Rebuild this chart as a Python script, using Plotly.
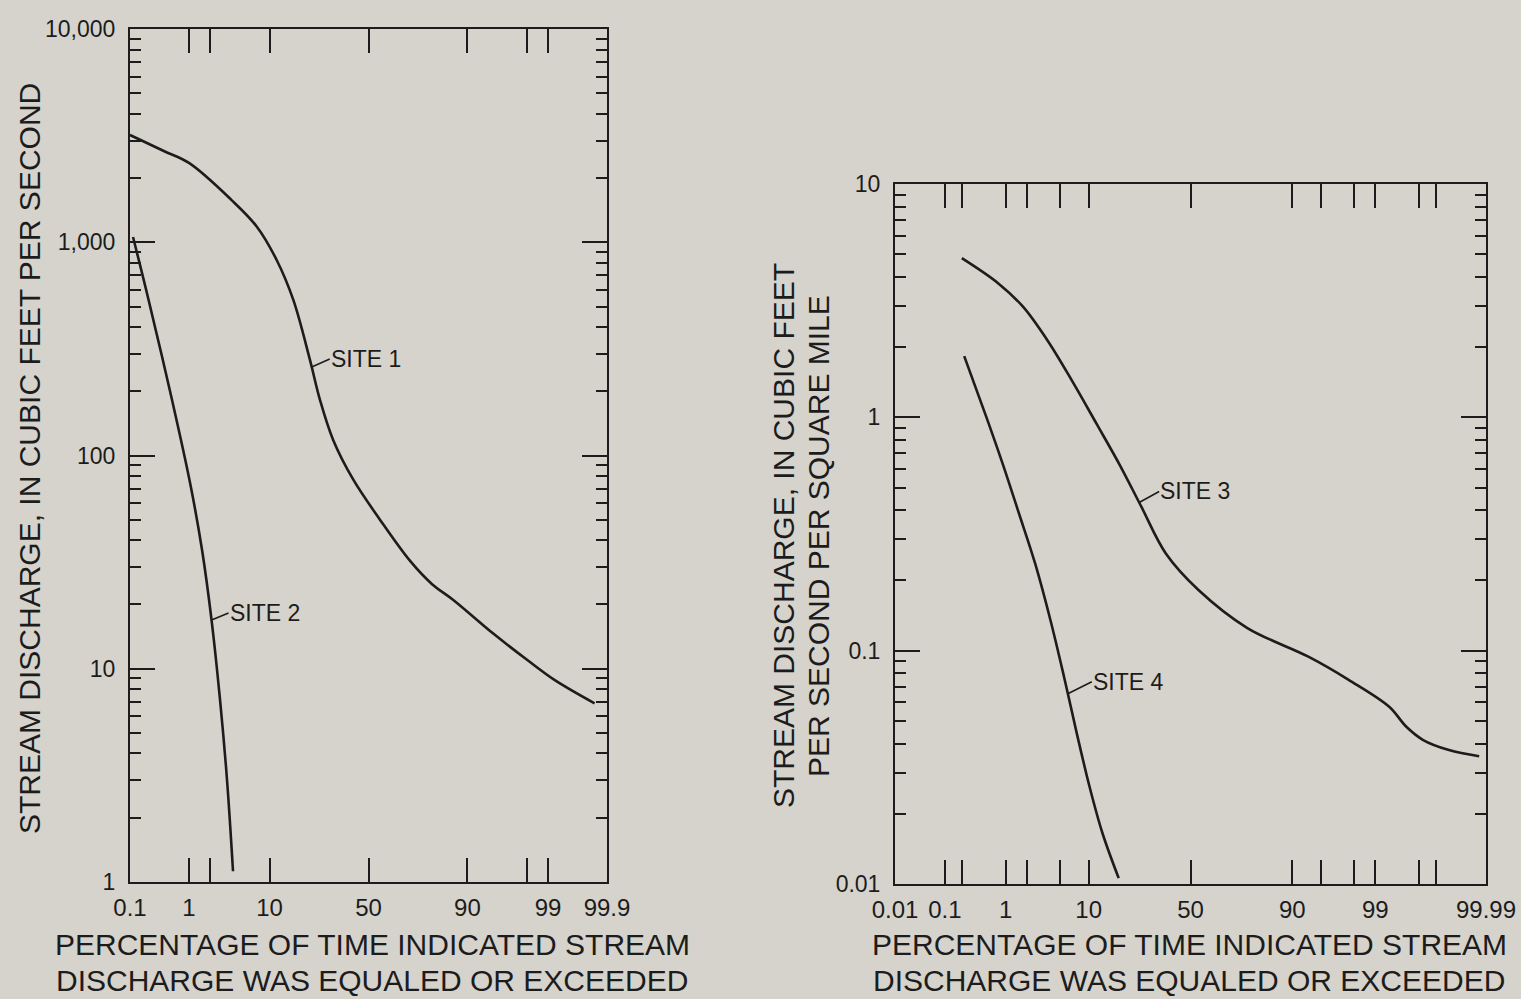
import numpy as np
import plotly.graph_objects as go
from statistics import NormalDist

_nd = NormalDist()


def zval(p):
    """probability-scale position of an exceedance percentage"""
    return _nd.inv_cdf(p / 100.0)


# ---------------- data (percent of time exceeded, discharge) ----------------
site1_pct = [0.1, 0.4, 1.0, 3.8, 7.4, 11.7, 16.5, 22.4, 26.5, 32.4, 42.2, 55.9,
             70.5, 79.5, 86.4, 94.7, 98.0, 99.2, 99.83]
site1_q = [3190, 2685, 2360, 1580, 1185, 827, 537, 281, 182, 118, 77, 50,
           32.0, 24.9, 21, 14.6, 11.0, 8.85, 6.87]

site2_pct = [0.114, 0.219, 0.546, 1.04, 1.55, 2.10, 2.72, 3.34, 3.96]
site2_q = [1060, 537, 182, 74.3, 36.1, 16.9, 7.13, 3.0, 1.12]

site3_pct = [0.2, 0.78, 1.75, 3.58, 6.76, 11.8, 19.0, 26.8, 37.8, 54.0, 76.3,
             93.1, 97.7, 99.38, 99.67, 99.83, 99.943, 99.986]
site3_q = [4.81, 3.75, 2.98, 2.14, 1.44, 0.942, 0.614, 0.414, 0.261, 0.182, 0.125,
           0.0942, 0.0748, 0.0575, 0.0472, 0.0414, 0.0375, 0.0353]

site4_pct = [0.22, 0.505, 0.90, 1.54, 2.52, 3.90, 5.57, 7.62, 10.2, 13.4, 18.3]
site4_q = [1.83, 1.01, 0.635, 0.388, 0.237, 0.135, 0.0773, 0.0442, 0.0261, 0.0165,
           0.0106]

# axis labels / tick marks
left_xlabel_pct = [0.1, 1, 10, 50, 90, 99, 99.9]
left_xlabel_txt = ["0.1", "1", "10", "50", "90", "99", "99.9"]
left_xtick_pct = [1, 2, 10, 50, 90, 98, 99]
left_ylabel_val = [1, 10, 100, 1000, 10000]
left_ylabel_txt = ["1", "10", "100", "1,000", "10,000"]

right_xlabel_pct = [0.01, 0.1, 1, 10, 50, 90, 99, 99.99]
right_xlabel_txt = ["0.01", "0.1", "1", "10", "50", "90", "99", "99.99"]
right_xtick_pct = [0.1, 0.2, 1, 2, 5, 10, 50, 90, 95, 98, 99, 99.8, 99.9]
right_ylabel_val = [0.01, 0.1, 1, 10]
right_ylabel_txt = ["0.01", "0.1", "1", "10"]

# site label anchor points (percent where leader touches the curve)
site_names = ["SITE 1", "SITE 2", "SITE 3", "SITE 4"]
site_label_pct = [23.1, 2.10, 25.9, 6.13]

xtitle1 = "PERCENTAGE OF TIME INDICATED STREAM"
xtitle2 = "DISCHARGE WAS EQUALED OR EXCEEDED"
ytitle_left = "STREAM DISCHARGE, IN CUBIC FEET PER SECOND"
ytitle_right1 = "STREAM DISCHARGE, IN CUBIC FEET"
ytitle_right2 = "PER SECOND PER SQUARE MILE"

# ---------------- styling ----------------
W, H = 1521, 999
BG = "#d6d3cc"
INK = "#1c1c1c"
FONT = "Liberation Sans, Arial, Helvetica, sans-serif"


def px_x(px):
    return px / W


def px_y(py):
    return 1 - py / H


fig = go.Figure()

curves = [
    (site1_pct, site1_q, "x", "y"),
    (site2_pct, site2_q, "x", "y"),
    (site3_pct, site3_q, "x2", "y2"),
    (site4_pct, site4_q, "x2", "y2"),
]
for pct, q, xa, ya in curves:
    fig.add_trace(go.Scatter(
        x=[zval(p) for p in pct], y=q, mode="lines",
        line=dict(color=INK, width=2.6, shape="spline", smoothing=1.0),
        xaxis=xa, yaxis=ya, hoverinfo="skip", showlegend=False))


def xaxis_cfg(domain, rng, lab_pct, lab_txt, tick_pct, anchor, fsize):
    return dict(
        domain=domain, range=rng, anchor=anchor, tickmode="array",
        tickvals=[zval(p) for p in lab_pct], ticktext=lab_txt, ticks="",
        showgrid=False, zeroline=False, showline=True, linecolor=INK,
        linewidth=2, mirror="ticks",
        minor=dict(tickmode="array", tickvals=[zval(p) for p in tick_pct],
                   ticks="inside", ticklen=24, tickwidth=2, tickcolor=INK,
                   showgrid=False),
        tickfont=dict(family=FONT, size=fsize, color=INK),
        ticklabelstandoff=3, automargin=False, fixedrange=True)


def yaxis_cfg(domain, rng, vals, txt, anchor, fsize):
    lo, hi = rng
    minors = [m * 10.0 ** d for d in range(lo, hi) for m in range(2, 10)]
    return dict(
        domain=domain, type="log", range=[lo, hi], anchor=anchor,
        tickmode="array", tickvals=vals, ticktext=txt, ticks="inside",
        ticklen=25, tickwidth=2, tickcolor=INK, showgrid=False,
        zeroline=False, showline=True, linecolor=INK, linewidth=2,
        mirror="ticks",
        minor=dict(tickmode="array", tickvals=minors, ticks="inside",
                   ticklen=11, tickwidth=2, tickcolor=INK, showgrid=False),
        tickfont=dict(family=FONT, size=fsize, color=INK),
        ticklabelstandoff=8, automargin=False, fixedrange=True)


L_X = [px_x(130), px_x(607)]
L_Y = [px_y(881.7), px_y(29.3)]
R_X = [px_x(895), px_x(1486)]
R_Y = [px_y(884), px_y(184)]

fig.update_layout(
    width=W, height=H, autosize=False,
    margin=dict(l=0, r=0, t=0, b=0),
    paper_bgcolor=BG, plot_bgcolor=BG,
    font=dict(family=FONT, color=INK),
    xaxis=xaxis_cfg(L_X, [zval(0.1), zval(99.9)], left_xlabel_pct,
                    left_xlabel_txt, left_xtick_pct, "y", 24),
    yaxis=yaxis_cfg(L_Y, (0, 4), left_ylabel_val, left_ylabel_txt, "x", 23),
    xaxis2=xaxis_cfg(R_X, [zval(0.01), zval(99.99)], right_xlabel_pct,
                     right_xlabel_txt, right_xtick_pct, "y2", 24),
    yaxis2=yaxis_cfg(R_Y, (-2, 1), right_ylabel_val, right_ylabel_txt, "x2", 23),
)

# site labels with short leader lines
site_curves = [(site1_pct, site1_q, "x", "y"), (site2_pct, site2_q, "x", "y"),
               (site3_pct, site3_q, "x2", "y2"), (site4_pct, site4_q, "x2", "y2")]
leader_off = [(18, -8), (17, -7), (20, -11), (24, -12)]
for name, p, (pct, q, xa, ya), (ax, ay) in zip(site_names, site_label_pct,
                                                site_curves, leader_off):
    zs = np.array([zval(v) for v in pct])
    lq = np.log10(np.array(q))
    zp = zval(p)
    yq = float(np.interp(zp, zs, lq))
    fig.add_annotation(
        x=zp, y=yq, xref=xa, yref=ya, text=name, showarrow=True,
        arrowhead=0, arrowwidth=1.6, arrowcolor=INK, ax=ax, ay=ay,
        xanchor="left", yanchor="middle", borderpad=0,
        font=dict(family=FONT, size=23, color=INK))


# axis titles
def add_text(txt, x, y, angle=0, size=30):
    fig.add_annotation(x=px_x(x), y=px_y(y), xref="paper", yref="paper",
                       text=txt, showarrow=False, textangle=angle,
                       xanchor="center", yanchor="middle",
                       font=dict(family=FONT, size=size, color=INK))


add_text(xtitle1, 372, 944)
add_text(xtitle2, 372, 980)
add_text(xtitle1, 1189, 944)
add_text(xtitle2, 1189, 980)
add_text(ytitle_left, 30, 459, angle=-90)
add_text(ytitle_right1, 783, 536, angle=-90)
add_text(ytitle_right2, 818, 536, angle=-90)

page_js = (
    "document.documentElement.style.margin='0';"
    "document.documentElement.style.padding='0';"
    "document.documentElement.style.overflow='hidden';"
    "document.documentElement.style.background='" + BG + "';"
    "document.body.style.margin='0';"
    "document.body.style.padding='0';"
    "document.body.style.overflow='hidden';"
    "document.body.style.background='" + BG + "';"
)
fig.write_html("out.html", post_script=page_js,
               config={"displayModeBar": False, "staticPlot": False})
